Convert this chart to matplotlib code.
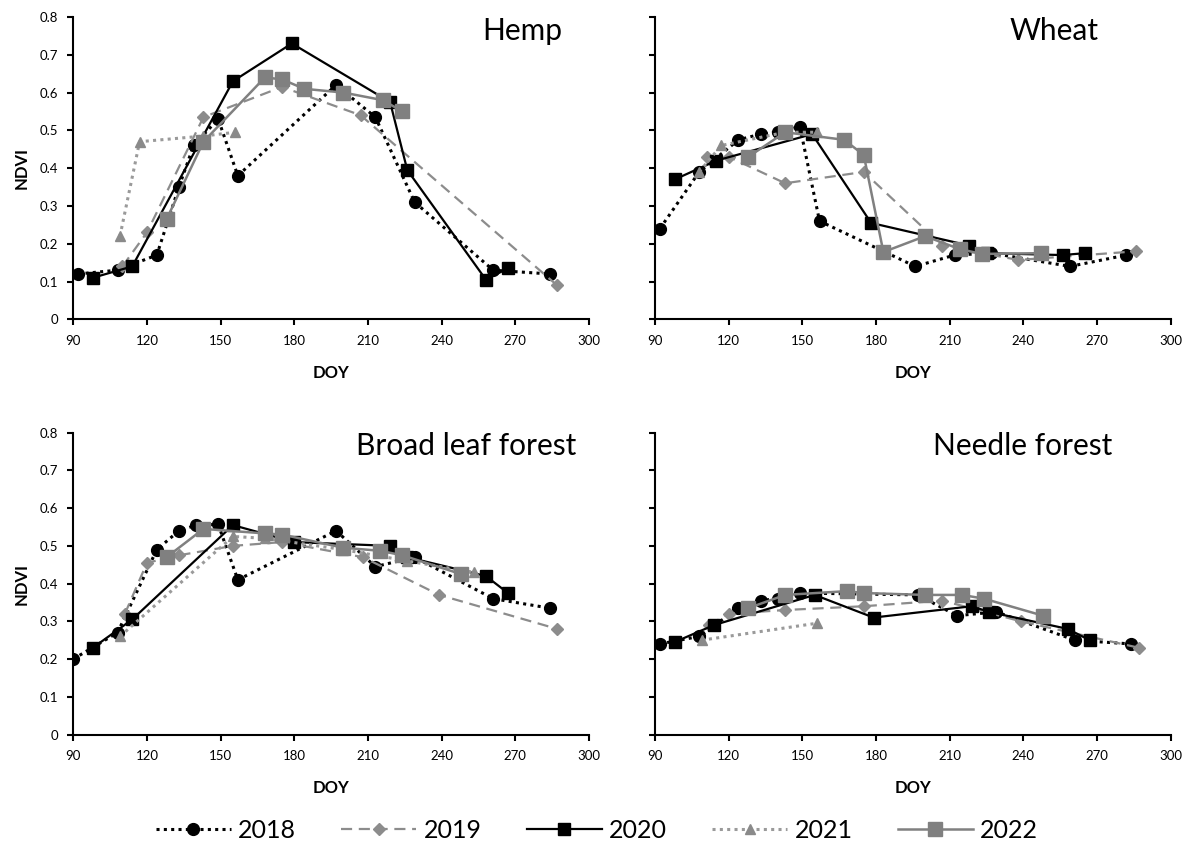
import matplotlib.pyplot as plt
import numpy as np

plt.rcParams["font.family"] = ["Lato", "DejaVu Sans"]

years = ["2018", "2019", "2020", "2021", "2022"]
panels = ["Hemp", "Wheat", "Broad leaf forest", "Needle forest"]

# DOY / NDVI per panel and year
hemp_doy = {
    "2018": [92, 108, 124, 133, 139, 149, 157, 197, 213, 229, 261, 284],
    "2019": [110, 120, 143, 175, 207, 287],
    "2020": [98, 114, 155, 179, 219, 226, 258, 267],
    "2021": [109, 117, 143, 156],
    "2022": [128, 143, 168, 175, 184, 200, 216, 224],
}
hemp_ndvi = {
    "2018": [0.12, 0.13, 0.17, 0.35, 0.46, 0.53, 0.38, 0.62, 0.535, 0.31, 0.13, 0.12],
    "2019": [0.14, 0.23, 0.535, 0.615, 0.54, 0.09],
    "2020": [0.11, 0.14, 0.63, 0.73, 0.575, 0.395, 0.105, 0.135],
    "2021": [0.22, 0.47, 0.485, 0.495],
    "2022": [0.265, 0.47, 0.64, 0.635, 0.61, 0.60, 0.58, 0.55],
}

wheat_doy = {
    "2018": [92, 108, 124, 133, 140, 149, 157, 196, 212, 227, 259, 282],
    "2019": [111, 120, 143, 175, 207, 238, 286],
    "2020": [98, 115, 154, 178, 218, 225, 256, 265],
    "2021": [108, 117, 143, 156],
    "2022": [128, 143, 167, 175, 183, 200, 214, 223, 247],
}
wheat_ndvi = {
    "2018": [0.24, 0.39, 0.475, 0.49, 0.495, 0.51, 0.26, 0.14, 0.17, 0.175, 0.14, 0.17],
    "2019": [0.43, 0.43, 0.36, 0.39, 0.195, 0.157, 0.18],
    "2020": [0.37, 0.42, 0.49, 0.255, 0.195, 0.175, 0.17, 0.175],
    "2021": [0.39, 0.46, 0.495, 0.495],
    "2022": [0.43, 0.495, 0.475, 0.435, 0.178, 0.22, 0.186, 0.173, 0.175],
}

broad_doy = {
    "2018": [90, 108, 124, 133, 140, 149, 157, 197, 213, 229, 261, 284],
    "2019": [111, 120, 133, 155, 175, 208, 239, 287],
    "2020": [98, 114, 155, 180, 219, 226, 258, 267],
    "2021": [109, 155, 168, 200, 226, 253],
    "2022": [128, 143, 168, 175, 200, 215, 224, 248],
}
broad_ndvi = {
    "2018": [0.20, 0.27, 0.49, 0.54, 0.555, 0.557, 0.41, 0.54, 0.445, 0.47, 0.36, 0.335],
    "2019": [0.32, 0.455, 0.475, 0.50, 0.51, 0.47, 0.37, 0.28],
    "2020": [0.23, 0.305, 0.555, 0.51, 0.50, 0.47, 0.42, 0.375],
    "2021": [0.26, 0.525, 0.52, 0.49, 0.46, 0.43],
    "2022": [0.47, 0.545, 0.533, 0.53, 0.495, 0.487, 0.475, 0.425],
}

needle_doy = {
    "2018": [92, 108, 124, 133, 140, 149, 197, 213, 229, 261, 284],
    "2019": [112, 120, 143, 175, 207, 239, 287],
    "2020": [98, 114, 155, 179, 219, 226, 258, 267],
    "2021": [109, 156],
    "2022": [128, 143, 168, 175, 200, 215, 224, 248],
}
needle_ndvi = {
    "2018": [0.24, 0.26, 0.335, 0.355, 0.36, 0.375, 0.37, 0.315, 0.325, 0.25, 0.24],
    "2019": [0.29, 0.32, 0.33, 0.34, 0.355, 0.30, 0.23],
    "2020": [0.245, 0.29, 0.37, 0.31, 0.34, 0.325, 0.28, 0.25],
    "2021": [0.25, 0.295],
    "2022": [0.335, 0.37, 0.38, 0.375, 0.37, 0.37, 0.36, 0.315],
}

x_ticks = [90, 120, 150, 180, 210, 240, 270, 300]
y_ticks = [0, 0.1, 0.2, 0.3, 0.4, 0.5, 0.6, 0.7, 0.8]
y_labels = ["0", "0.1", "0.2", "0.3", "0.4", "0.5", "0.6", "0.7", "0.8"]

styles = {
    "2018": dict(color="black", ls=(0, (1, 1.4)), lw=2.2, marker="o", ms=8.5,
                 mfc="black", mec="black"),
    "2019": dict(color="#8c8c8c", ls=(0, (5, 3)), lw=1.6, marker="D", ms=6,
                 mfc="#8c8c8c", mec="#8c8c8c"),
    "2020": dict(color="black", ls="-", lw=1.6, marker="s", ms=8.5,
                 mfc="black", mec="black"),
    "2021": dict(color="#9a9a9a", ls=(0, (1, 1.4)), lw=2.2, marker="^", ms=7,
                 mfc="#8a8a8a", mec="#8a8a8a"),
    "2022": dict(color="#808080", ls="-", lw=1.8, marker="s", ms=9.5,
                 mfc="#808080", mec="#808080"),
}

data = [(hemp_doy, hemp_ndvi), (wheat_doy, wheat_ndvi),
        (broad_doy, broad_ndvi), (needle_doy, needle_ndvi)]

fig = plt.figure(figsize=(11.87, 8.47), dpi=100)
W, H = 1187, 847
boxes = [
    (73.3, 17, 589, 319.3),
    (655, 17, 1170.7, 319.3),
    (73.3, 432.7, 589, 734.5),
    (655, 432.7, 1170.7, 734.5),
]
title_x = [0.949, 0.86, 0.976, 0.886]

for i, (doy, ndvi) in enumerate(data):
    l, t, r, b = boxes[i]
    ax = fig.add_axes([l / W, 1 - b / H, (r - l) / W, (b - t) / H])
    for y in years:
        ax.plot(doy[y], ndvi[y], label=y, **styles[y])
    ax.set_xlim(90, 300)
    ax.set_ylim(0, 0.8)
    ax.set_xticks(x_ticks)
    ax.set_yticks(y_ticks)
    if i % 2 == 0:
        ax.set_yticklabels(y_labels)
        ax.set_ylabel("NDVI", fontsize=12, fontweight="bold", labelpad=7)
    else:
        ax.set_yticklabels([])
    ax.set_xlabel("DOY", fontsize=12, fontweight="bold", labelpad=13)
    for s in ["top", "right"]:
        ax.spines[s].set_visible(False)
    for s in ["left", "bottom"]:
        ax.spines[s].set_linewidth(1.5)
    ax.tick_params(direction="out", length=4, width=1.5, labelsize=9.5, pad=7)
    ax.text(title_x[i], 0.925, panels[i], transform=ax.transAxes,
            ha="right", va="baseline", fontsize=21.5)

handles, labels = ax.get_legend_handles_labels()
fig.legend(handles, labels, loc="center", bbox_to_anchor=(0.503, 0.02), ncol=5,
           frameon=False, fontsize=18, handlelength=3.0, handletextpad=0.3,
           columnspacing=1.8)

fig.savefig("out.png", dpi=100)
